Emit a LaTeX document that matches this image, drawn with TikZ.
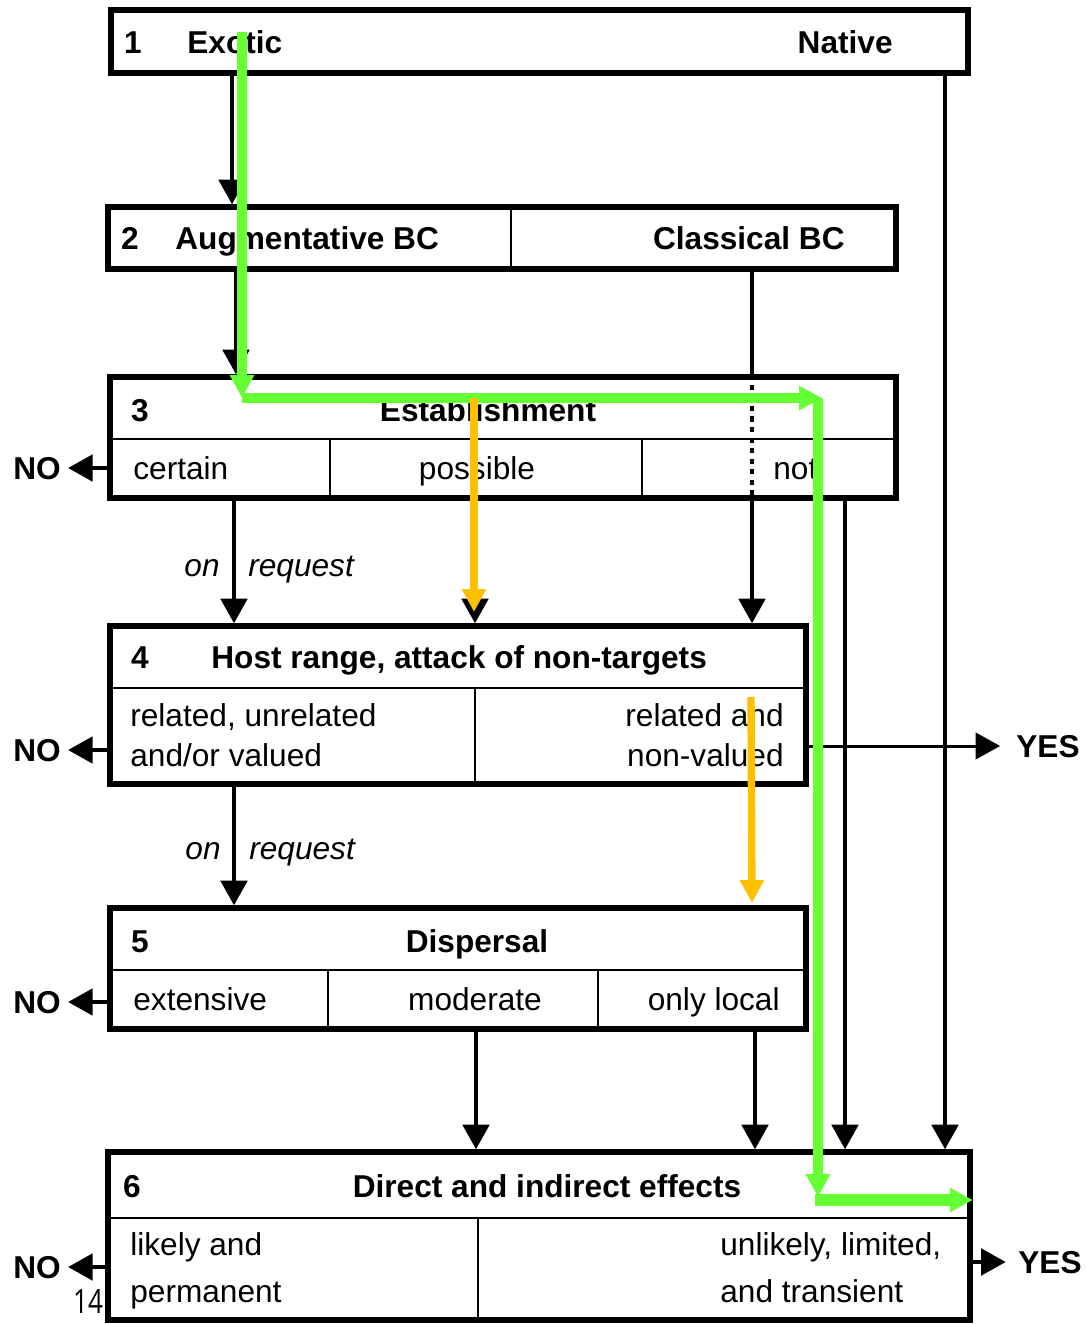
\documentclass[tikz,border=0pt]{standalone}
\usepackage{fontspec}
\setmainfont{Liberation Sans}
\newfontfamily\pagefont{Open Sans}
\usetikzlibrary{arrows.meta,fit}
\definecolor{pathgreen}{RGB}{102,255,51}
\definecolor{pathorange}{RGB}{255,192,0}

\begin{document}
\begin{tikzpicture}[x=0.02cm, y=-0.02cm, >={Triangle[length=14pt,width=15pt]},
  box/.style={draw, line width=3.1pt, inner sep=0pt},
  sep/.style={line width=0.9pt},
  flow/.style={->, line width=2.3pt},
  hd/.style={inner sep=0pt, text height=13pt, text depth=0pt, font=\bfseries\fontsize{18}{20}\selectfont},
  opt/.style={inner sep=0pt, text height=13pt, text depth=0pt, font=\fontsize{18}{20}\selectfont},
  req/.style={inner sep=0pt, text height=13pt, text depth=0pt, font=\itshape\fontsize{18}{20}\selectfont},
  greenarrow/.style={draw=pathgreen, line width=5.4pt, -{Triangle[length=13pt,width=13pt]}},
  orangearrow/.style={draw=pathorange, line width=4.2pt, -{Triangle[length=13pt,width=13pt]}}]
\useasboundingbox (0,0) rectangle (1085,1324);

\node[box, fit={(111,10) (968,73)}] (b1) {};
\node[box, fit={(108,207) (896,269)}] (b2) {};
\node[box, fit={(110,377) (896,498)}] (b3) {};
\node[box, fit={(110,626) (806,784)}] (b4) {};
\node[box, fit={(110,908) (806,1029)}] (b5) {};
\node[box, fit={(108,1152) (970,1320)}] (b6) {};

\draw[sep] (511,207) -- (511,269);
\draw[sep] (110,439) -- (896,439);
\draw[sep] (330,439) -- (330,498);
\draw[sep] (642,439) -- (642,498);
\draw[sep] (110,688) -- (806,688);
\draw[sep] (475,688) -- (475,784);
\draw[sep] (110,970) -- (806,970);
\draw[sep] (328,970) -- (328,1029);
\draw[sep] (598,970) -- (598,1029);
\draw[sep] (108,1218) -- (970,1218);
\draw[sep] (478,1218) -- (478,1320);

\node[hd] (n1) at (133,42) {1};
\node[hd, anchor=west] (exotic) at (187,42) {Exotic};
\node[hd, anchor=east] (native) at (893,42) {Native};
\node[hd] (n2) at (130,238) {2};
\node[hd, anchor=west] (augm) at (175,238) {Augmentative BC};
\node[hd, anchor=east] (classic) at (845,238) {Classical BC};
\node[hd] (n3) at (140,410) {3};
\node[hd] (estab) at (488,410) {Establishment};
\node[opt, anchor=west] (certain) at (133,468) {certain};
\node[opt] (possible) at (477,468) {possible};
\node[opt, anchor=west] (not) at (773,468) {not};
\node[hd] (n4) at (140,657) {4};
\node[hd, anchor=west] (host) at (211,657) {Host range, attack of non-targets};
\node[opt, anchor=west] (rel1) at (130,715) {related, unrelated};
\node[opt, anchor=west] (rel2) at (130,755) {and/or valued};
\node[opt, anchor=east] (rel3) at (784,715) {related and};
\node[opt, anchor=east] (rel4) at (784,755) {non-valued};
\node[hd] (n5) at (140,941) {5};
\node[hd] (disp) at (477,941) {Dispersal};
\node[opt, anchor=west] (ext) at (133,999) {extensive};
\node[opt] (mod) at (475,999) {moderate};
\node[opt, anchor=east] (loc) at (780,999) {only local};
\node[hd] (n6) at (132,1186) {6};
\node[hd] (effects) at (547,1186) {Direct and indirect effects};
\node[opt, anchor=west] (eff1) at (130,1244) {likely and};
\node[opt, anchor=west] (eff2) at (130,1291) {permanent};
\node[opt, anchor=west] (eff3) at (720,1244) {unlikely, limited,};
\node[opt, anchor=west] (eff4) at (720,1291) {and transient};
\node[req, anchor=east] (on1) at (220,565) {on};
\node[req, anchor=west] (rq1) at (248,565) {request};
\node[req, anchor=east] (on2) at (221,848) {on};
\node[req, anchor=west] (rq2) at (249,848) {request};

\node[hd] (no3) at (37,468) {NO};
\node[hd] (no4) at (37,750) {NO};
\node[hd] (no5) at (37,1002) {NO};
\node[hd] (no6) at (37,1267) {NO};
\node[hd] (yes4) at (1048,746) {YES};
\node[hd] (yes6) at (1050,1262) {YES};
\node[font=\pagefont\fontsize{19}{19}\selectfont, xscale=0.78, inner sep=0pt] (page) at (88,1302) {14};

\coordinate (c1) at (232,0);
\coordinate (c2) at (236,0);
\coordinate (c3) at (234,0);
\coordinate (c4) at (475,0);
\coordinate (c5) at (752,0);
\coordinate (c6) at (845,0);
\coordinate (c7) at (945,0);
\coordinate (c8) at (476,0);
\coordinate (c9) at (755,0);

\draw[flow] (b1.south -| c1) -- (b2.north -| c1);
\draw[flow] (b1.south -| c7) -- (b6.north -| c7);
\draw[flow] (b2.south -| c2) -- (b3.north -| c2);
\draw[line width=2.3pt] (b2.south -| c5) -- (b3.north -| c5);
\draw[line width=2.6pt, dash pattern=on 3pt off 3pt] (b3.north -| c5) -- (b3.south -| c5);
\draw[flow] (b3.south -| c5) -- (b4.north -| c5);
\draw[flow] (b3.south -| c3) -- (b4.north -| c3);
\draw[flow] (b3.south -| c4) -- (b4.north -| c4);
\draw[flow] (b3.south -| c6) -- (b6.north -| c6);
\draw[flow] (b4.south -| c3) -- (b5.north -| c3);
\draw[flow] (b5.south -| c8) -- (b6.north -| c8);
\draw[flow] (b5.south -| c9) -- (b6.north -| c9);

\draw[flow] (b3.west |- no3) -- ([xshift=4pt]no3.east);
\draw[flow] (b4.west |- no4) -- ([xshift=4pt]no4.east);
\draw[flow] (b5.west |- no5) -- ([xshift=4pt]no5.east);
\draw[flow] (b6.west |- no6) -- ([xshift=4pt]no6.east);
\draw[flow, line width=1.7pt] (b4.east |- yes4) -- ([xshift=-9pt]yes4.west);
\draw[flow] (b6.east |- yes6) -- ([xshift=-7pt]yes6.west);

\coordinate (g0) at (242,32);
\coordinate (g1) at (242,398);
\coordinate (g2) at (822,398);
\coordinate (g3) at (818,398);
\coordinate (g4) at (818,1197);
\coordinate (g5) at (815,1200);
\draw[greenarrow] (g0) -- (g1);
\draw[greenarrow, line width=6pt] (g1) -- (g2);
\draw[greenarrow] (g3) -- (g4);
\draw[greenarrow, line width=6.6pt] (g5) -- (b6.east |- g5);

\coordinate (o0) at (474,398);
\coordinate (o1) at (474,612);
\coordinate (o2) at (751,697);
\coordinate (o3) at (752,903);
\draw[orangearrow] (o0) -- (o1);
\draw[orangearrow] (o2) -- (o3);
\end{tikzpicture}
\end{document}
